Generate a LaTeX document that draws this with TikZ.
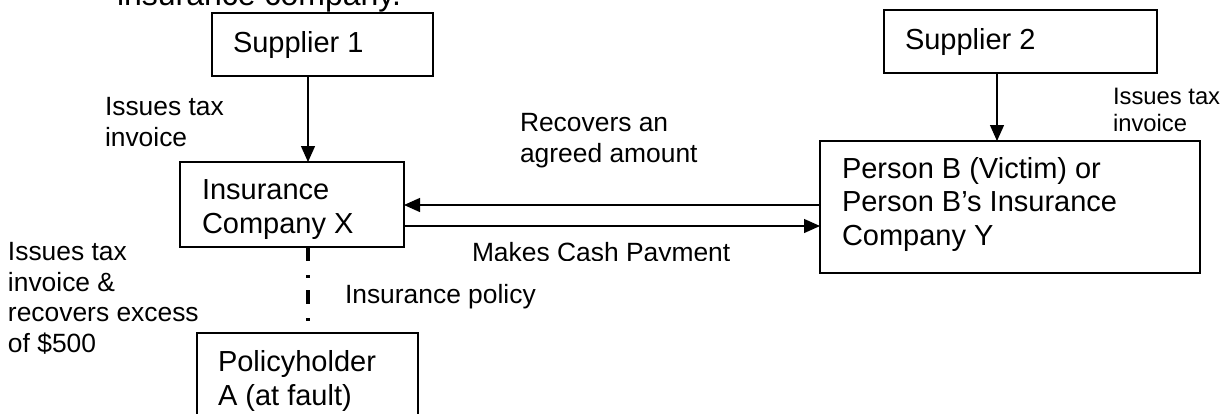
\documentclass[tikz,border=0pt]{standalone}
\usepackage{fontspec}
\setmainfont{Liberation Sans}
\usetikzlibrary{arrows.meta}
\begin{document}
\begin{tikzpicture}[x=0.5pt,y=-0.5pt,
  box/.style={draw, line width=0.65pt, rectangle, inner sep=0pt, outer sep=0pt},
  txt/.style={inner sep=0pt, outer sep=0pt, anchor=base west, align=left},
  big/.style={txt, font=\fontsize{14.5}{16.75}\selectfont},
  small/.style={txt, font=\fontsize{13.2}{15.2}\selectfont},
  smaller/.style={txt, font=\fontsize{11.9}{13.2}\selectfont},
  title/.style={txt, font=\fontsize{16}{19}\selectfont},
  arr/.style={line width=0.65pt, -{Triangle[length=8pt,width=7pt]}},
  dd/.style={line width=1.6pt, dash pattern=on 7pt off 7pt on 1.5pt off 6pt}]
\clip (0,0) rectangle (1230,413);
\fill[white] (0,0) rectangle (1230,413);

% cut-off heading
\node[title] (head) at (117,5) {insurance company.};

% boxes
\node[box, minimum width=110.5pt, minimum height=31.5pt] (s1) at (322.5,44.5) {};
\node[box, minimum width=136.5pt, minimum height=31.5pt] (s2) at (1020.5,41.5) {};
\node[box, minimum width=112pt, minimum height=42.5pt] (ix) at (292,204.5) {};
\node[box, minimum width=190pt, minimum height=66pt] (pb) at (1010,207) {};
\node[box, minimum width=110.5pt, minimum height=70pt] (pa) at (307.5,403) {};

% box texts (anchor = baseline of last line)
\node[big] (s1t) at (233,52) {Supplier 1};
\node[big] (s2t) at (905,49) {Supplier 2};
\node[big] (ixt) at (202,233) {Insurance\\Company X};
\node[big] (pbt) at (842,245) {Person B (Victim) or\\Person B’s Insurance\\Company Y};
\node[big] (pat) at (218,405) {Policyholder\\A (at fault)};

% connectors
\coordinate (ax) at (308,0);
\coordinate (bx) at (997,0);
\coordinate (ya) at (0,205);
\coordinate (yb) at (0,226);
\draw[arr] (s1.south -| ax) -- (ix.north -| ax);
\draw[arr] (s2.south -| bx) -- (pb.north -| bx);
\draw[arr] (pb.west |- ya) -- (ix.east |- ya);
\draw[arr] (ix.east |- yb) -- (pb.west |- yb);
\draw[dd] (ix.south -| ax) -- (pa.north -| ax);

% labels
\node[small] (l1) at (105,146) {Issues tax\\invoice};
\node[smaller] (l2) at (1113,131) {Issues tax\\invoice};
\node[small] (l3) at (520,162) {Recovers an\\agreed amount};
\begin{scope}
  \clip (400,230) rectangle (820,260.5);
  \node[small] (l4) at (472,261) {Makes Cash Payment};
\end{scope}
\node[small] (l5) at (345,303) {Insurance policy};
\node[small] (l6) at (8,352) {Issues tax\\invoice \&\\recovers excess\\of \$500};
\end{tikzpicture}
\end{document}
